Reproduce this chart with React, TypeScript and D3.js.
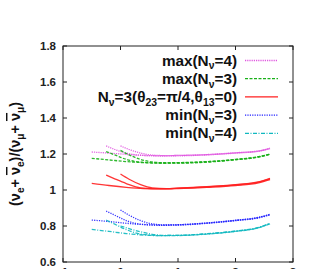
import React from "react"
import * as d3 from "d3"

// x positions of the three curve families (start points differ)
const xsA = [-0.5, -0.2, 0.1, 0.4, 0.7, 1.0, 1.5, 2.0, 2.4, 2.6]
const xsB = [-0.25, -0.1, 0.1, 0.35, 0.7, 1.0, 1.5, 2.0, 2.4, 2.6]
const xsC = [0.0, 0.15, 0.35, 0.55, 0.8, 1.0, 1.5, 2.0, 2.4, 2.6]

const maxN4 = [
  [1.211, 1.205, 1.198, 1.192, 1.19, 1.19, 1.195, 1.205, 1.215, 1.23],
  [1.245, 1.225, 1.205, 1.193, 1.19, 1.192, 1.197, 1.207, 1.217, 1.232],
  [1.245, 1.225, 1.205, 1.194, 1.191, 1.192, 1.196, 1.206, 1.216, 1.231],
]
const maxN3 = [
  [1.176, 1.167, 1.158, 1.152, 1.149, 1.149, 1.155, 1.168, 1.183, 1.198],
  [1.213, 1.195, 1.17, 1.155, 1.15, 1.151, 1.157, 1.17, 1.185, 1.2],
  [1.22, 1.195, 1.17, 1.156, 1.151, 1.152, 1.157, 1.169, 1.184, 1.199],
]
const std3 = [
  [1.037, 1.025, 1.015, 1.008, 1.006, 1.008, 1.015, 1.025, 1.04, 1.058],
  [1.083, 1.062, 1.036, 1.012, 1.007, 1.01, 1.018, 1.03, 1.045, 1.065],
  [1.089, 1.06, 1.03, 1.012, 1.008, 1.01, 1.017, 1.028, 1.044, 1.062],
]
const minN3 = [
  [0.833, 0.825, 0.815, 0.808, 0.804, 0.805, 0.815, 0.83, 0.845, 0.862],
  [0.883, 0.86, 0.83, 0.81, 0.805, 0.807, 0.817, 0.832, 0.848, 0.865],
  [0.889, 0.86, 0.83, 0.812, 0.806, 0.807, 0.816, 0.831, 0.847, 0.864],
]
const minN4 = [
  [0.781, 0.77, 0.758, 0.75, 0.746, 0.747, 0.755, 0.77, 0.79, 0.812],
  [0.833, 0.81, 0.78, 0.755, 0.747, 0.748, 0.757, 0.772, 0.792, 0.815],
  [0.8, 0.785, 0.768, 0.754, 0.748, 0.748, 0.756, 0.771, 0.791, 0.814],
]

const xTicks = [-1, 0, 1, 2, 3]
const yTicks = [0.6, 0.8, 1, 1.2, 1.4, 1.6, 1.8]

type Part = [string, "n" | "s"]
const series: { label: Part[]; data: number[][]; color: string; dash: string; w: number }[] = [
  { label: [["max(N", "n"], ["ν", "s"], ["=4)", "n"]], data: maxN4, color: "#e055e0", dash: "1.2,1", w: 1.3 },
  { label: [["max(N", "n"], ["ν", "s"], ["=3)", "n"]], data: maxN3, color: "#18b018", dash: "3,1.5", w: 1.3 },
  { label: [["N", "n"], ["ν", "s"], ["=3(θ", "n"], ["23", "s"], ["=π/4,θ", "n"], ["13", "s"], ["=0)", "n"]], data: std3, color: "#ff2020", dash: "", w: 1.3 },
  { label: [["min(N", "n"], ["ν", "s"], ["=3)", "n"]], data: minN3, color: "#2020ff", dash: "1.2,1.2", w: 1.3 },
  { label: [["min(N", "n"], ["ν", "s"], ["=4)", "n"]], data: minN4, color: "#10b8c0", dash: "4,1.5,1,1.5", w: 1.3 },
]

const font = "'Liberation Sans', Arial, sans-serif"

function Rich({ parts, size }: { parts: Part[]; size: number }) {
  const out: React.ReactNode[] = []
  let sub = false
  parts.forEach(([t, k], i) => {
    if (k === "s") {
      out.push(<tspan key={i} dy={size * 0.25} fontSize={size * 0.68}>{t}</tspan>)
      sub = true
    } else {
      out.push(<tspan key={i} dy={sub ? -size * 0.25 : 0}>{t}</tspan>)
      sub = false
    }
  })
  return <>{out}</>
}

export default function App() {
  const left = 63, right = 293, top = 46, bottom = 262
  const x = d3.scaleLinear().domain([-1, 3]).range([left, right])
  const y = d3.scaleLinear().domain([0.6, 1.8]).range([bottom, top])
  const xsets = [xsA, xsB, xsC]
  const line = d3.line<[number, number]>().x(d => x(d[0])).y(d => y(d[1])).curve(d3.curveMonotoneX)
  const tl = 4
  const lf = 15.3

  return (
    <svg width={315} height={269} style={{ position: "absolute", left: 0, top: 0 }} fontFamily={font}>
      <rect x={0} y={0} width={315} height={269} fill="#fff" />
      {series.map((s, si) => (
        <g key={si}>
          {s.data.map((vals, ci) => (
            <path key={ci} d={line(vals.map((v, k) => [xsets[ci][k], v] as [number, number])) || ""}
              fill="none" stroke={s.color} strokeWidth={s.w} strokeDasharray={s.dash} strokeOpacity={0.9} />
          ))}
        </g>
      ))}
      {/* frame and ticks */}
      <rect x={left} y={top} width={right - left} height={bottom - top} fill="none" stroke="#222" strokeWidth={1} />
      {yTicks.map(t => (
        <g key={t}>
          <line x1={left} x2={left + tl} y1={y(t)} y2={y(t)} stroke="#222" />
          <line x1={right} x2={right - tl} y1={y(t)} y2={y(t)} stroke="#222" />
          <text x={left - 7} y={y(t) + 4} textAnchor="end" fontSize={11.5} fontWeight="bold" fill="#222">{t === 1 ? "1" : t.toFixed(1)}</text>
        </g>
      ))}
      {xTicks.map(t => (
        <g key={t}>
          <line x1={x(t)} x2={x(t)} y1={bottom} y2={bottom - tl} stroke="#222" />
          <line x1={x(t)} x2={x(t)} y1={top} y2={top + tl} stroke="#222" />
          <text x={x(t)} y={bottom + 14} textAnchor="middle" fontSize={11.5} fontWeight="bold" fill="#222">{t}</text>
        </g>
      ))}
      {/* legend */}
      {series.map((s, i) => {
        const ly = 60.5 + i * 18.2
        return (
          <g key={i}>
            <text x={237} y={ly + 5} textAnchor="end" fontSize={lf} fontWeight="bold" fill="#111">
              <Rich parts={s.label} size={lf} />
            </text>
            <line x1={245} x2={278} y1={ly} y2={ly} stroke={s.color} strokeWidth={s.w} strokeDasharray={s.dash} />
          </g>
        )
      })}
      {/* y label */}
      <text transform="translate(20,154) rotate(-90)" textAnchor="middle" fontSize={14.5} fontWeight="bold" fill="#111">
        <tspan>(ν</tspan>
        <tspan dy={3.8} fontSize={10}>e</tspan>
        <tspan dy={-3.8}>+ </tspan>
        <tspan textDecoration="overline">ν</tspan>
        <tspan dy={3.8} fontSize={10}>e</tspan>
        <tspan dy={-3.8}>)/(ν</tspan>
        <tspan dy={3.8} fontSize={10}>μ</tspan>
        <tspan dy={-3.8}>+ </tspan>
        <tspan textDecoration="overline">ν</tspan>
        <tspan dy={3.8} fontSize={10}>μ</tspan>
        <tspan dy={-3.8}>)</tspan>
      </text>
    </svg>
  )
}
